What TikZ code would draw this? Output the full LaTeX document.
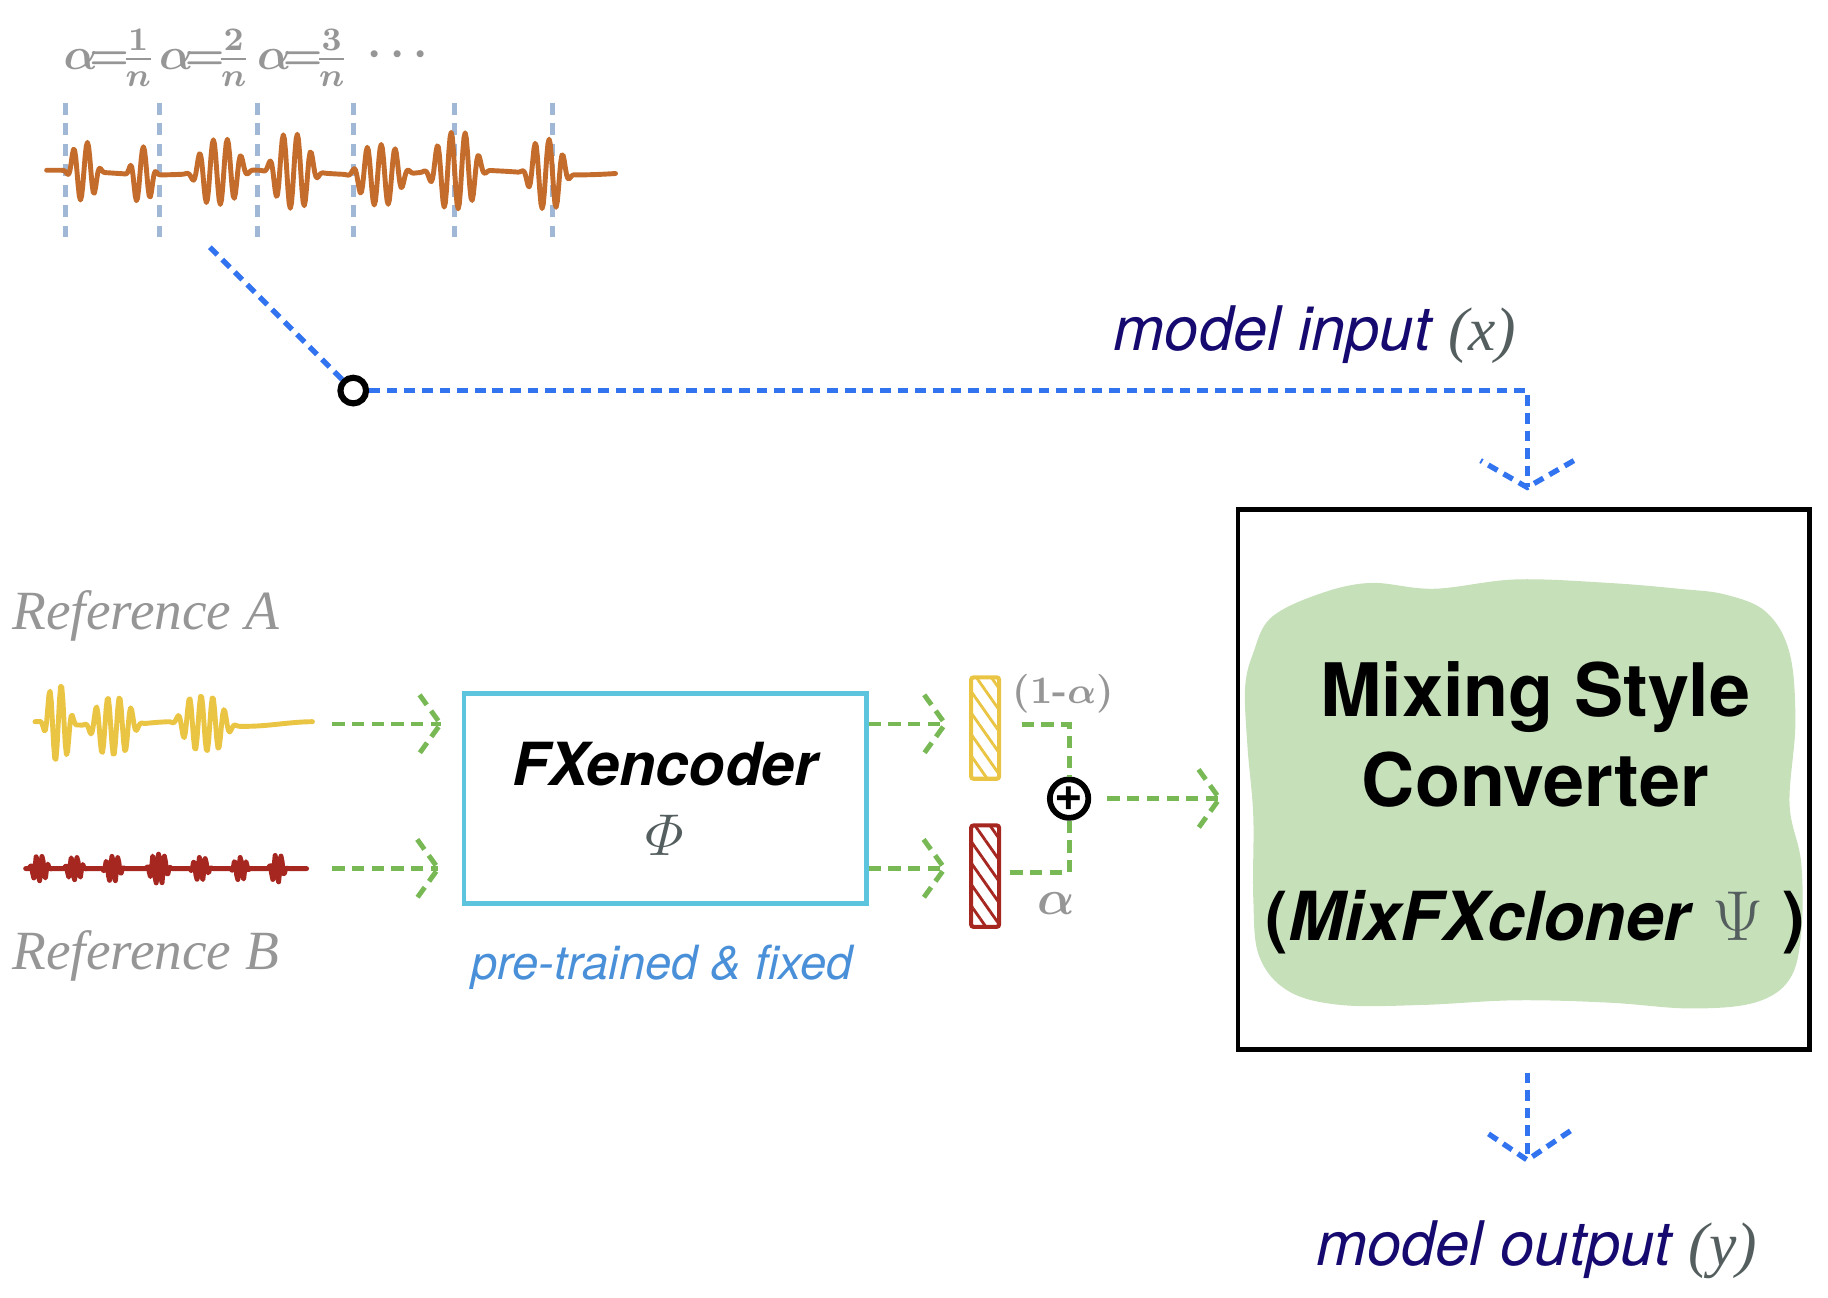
\documentclass[tikz,border=0pt]{standalone}
\usepackage{amsmath}
\usepackage{fontspec}
\setsansfont{TeX Gyre Heros}
\newfontfamily\reffont{Liberation Serif}
\usepackage{tikz}
\usetikzlibrary{positioning,calc,decorations.markings,patterns.meta}

\definecolor{wavebrown}{RGB}{196,108,44}
\definecolor{waveyellow}{RGB}{234,196,67}
\definecolor{wavered}{RGB}{166,38,32}
\definecolor{segblue}{RGB}{160,184,214}
\definecolor{linkblue}{RGB}{50,115,240}
\definecolor{linkgreen}{RGB}{120,185,86}
\definecolor{blobgreen}{RGB}{198,224,186}
\definecolor{enccyan}{RGB}{92,196,220}
\definecolor{fixblue}{RGB}{74,144,217}
\definecolor{navytext}{RGB}{22,10,112}
\definecolor{handgray}{RGB}{150,150,150}
\definecolor{symgray}{RGB}{85,94,94}

\begin{document}
\begin{tikzpicture}[
    declare function={burst(\pos,\cen,\wid)=exp(0-(min(((\pos-\cen)/\wid)^2,10))^2);},
    wave/.style={line width=1.2pt,line join=round,line cap=round},
    seg/.style={segblue,line width=1.1pt,dash pattern=on 3pt off 2pt},
    bluedash/.style={linkblue,line width=1.3pt,dash pattern=on 2.6pt off 1.7pt},
    greendash/.style={linkgreen,line width=1.2pt,dash pattern=on 3pt off 1.8pt},
    chev/.style n args={3}{postaction={decorate,decoration={markings,
      mark=at position 1 with {\draw[#1,line join=miter] (-#2,#3) -- (0,0) -- (-#2,-#3);}}}},
    hand/.style={text=handgray,font=\boldmath\bfseries\fontsize{11}{13}\selectfont,inner sep=0pt},
    reflbl/.style={text=handgray,font=\reffont\itshape\fontsize{13.5}{16}\selectfont},
    iolbl/.style={text=navytext,font=\sffamily\itshape\fontsize{15}{18}\selectfont},
    bar/.style={draw=#1,line width=1pt,rounded corners=0.6pt,inner sep=0,
      minimum width=0.24cm,minimum height=0.87cm,
      pattern={Lines[angle=-55,distance=3pt,line width=0.7pt]},pattern color=#1},
  ]
  \useasboundingbox (0,0) rectangle (15.68,-11.13);

  % input track cut into segments
  \foreach \xx in {0.56,1.37,2.21,3.03,3.90,4.74}
    \draw[seg] (\xx,-0.88) -- (\xx,-2.03);
  \draw[wave,wavebrown] plot[domain=40:528,samples=489,variable=\t]
    ({\t/100},{-1.48+0.02*sin(2*\t)+sin(30*mod(\t,12))*(0.25*burst(\t,72,12)+0.24*burst(\t,122,10)
      +0.28*burst(\t,188,20)+0.32*burst(\t,251,18)+0.26*burst(\t,326,20)
      +0.33*burst(\t,391,20)+0.30*burst(\t,469,16))});
  \foreach \i/\xx in {1/0.94,2/1.76,3/2.60}
    \node[hand] (seg\i) at (\xx,-0.50) {$\alpha\mkern-3mu{=}\mkern-3mu\frac{\i}{n}$};
  \node[hand] (segdots) at (3.45,-0.47) {$\cdots$};

  \coordinate (cut) at (1.80,-2.12);
  \node[circle,draw,line width=1.5pt,minimum size=0.22cm,inner sep=0] (tap) at (3.03,-3.35) {};
  \draw[bluedash] (cut) -- (tap);

  % converter
  \fill[blobgreen] plot[smooth cycle,tension=0.6] coordinates {
    (10.75,-5.60) (10.90,-5.30) (11.30,-5.10) (11.75,-5.00) (12.30,-5.05) (13.00,-4.97)
    (13.80,-5.00) (14.40,-5.05) (14.80,-5.10) (15.15,-5.25) (15.35,-5.60) (15.40,-6.20)
    (15.35,-6.90) (15.45,-7.40) (15.45,-8.00) (15.35,-8.40) (15.05,-8.60) (14.50,-8.65)
    (13.80,-8.60) (13.00,-8.58) (12.20,-8.62) (11.50,-8.62) (11.05,-8.50) (10.80,-8.20)
    (10.75,-7.70) (10.75,-7.00) (10.70,-6.40) (10.68,-5.90)};
  \node[draw,line width=1.1pt,minimum width=4.9cm,minimum height=4.63cm,inner sep=0] (conv) at (13.07,-6.685) {};
  \node[align=center,font=\sffamily\bfseries\fontsize{18}{22}\selectfont] (convlbl) at (13.17,-6.93)
    {Mixing Style\\Converter\\[0.38cm]{\fontsize{16.5}{20}\selectfont(\textit{MixFXcloner} \textcolor{symgray}{$\Psi$} )}};

  \draw[bluedash,chev={bluedash}{.23}{.40}] (tap) -| ([xshift=0.03cm,yshift=0.17cm]conv.north);
  \node[iolbl] (inlbl) at (11.28,-2.87) {model input \textcolor{symgray}{\reffont\itshape (x)}};

  \coordinate (outtip) at (13.10,-9.95);
  \draw[bluedash,chev={bluedash}{.25}{.37}] ([xshift=0.03cm,yshift=-0.18cm]conv.south) -- (outtip);
  \node[iolbl] (outlbl) at (13.18,-10.72) {model output \textcolor{symgray}{\reffont\itshape (y)}};

  % references
  \node[reflbl] (refa) at (1.25,-5.28) {Reference A};
  \node[reflbl] (refb) at (1.25,-8.20) {Reference B};
  \draw[wave,waveyellow] plot[domain=30:268,samples=239,variable=\t]
    ({\t/100},{-6.21+0.02*sin(3*\t)+sin(36*mod(\t,10))*(0.33*burst(\t,50,11)+0.25*burst(\t,97,18)
      +0.24*burst(\t,175,20))});
  \draw[wave,wavered] plot[domain=22:263,samples=242,variable=\t]
    ({\t/100},{-7.45+sin(72*mod(\t,5))*(0.11*burst(\t,34,7)+0.10*burst(\t,64,7)+0.11*burst(\t,97,7)
      +0.13*burst(\t,136,8)+0.10*burst(\t,172,7)+0.10*burst(\t,206,6)+0.12*burst(\t,238,6))});
  \coordinate (wa) at (2.68,-6.21);
  \coordinate (wb) at (2.63,-7.45);

  % encoder
  \node[draw=enccyan,line width=1.2pt,minimum width=3.45cm,minimum height=1.8cm,align=center,
    font=\sffamily\bfseries\itshape\fontsize{14.5}{17}\selectfont] (enc) at (5.705,-6.85)
    {FXencoder\\\textcolor{symgray}{$\varPhi$}};
  \node[text=fixblue,font=\sffamily\itshape\fontsize{11.5}{14}\selectfont] (fixed) at (5.68,-8.30) {pre-trained \& fixed};
  \draw[greendash,chev={greendash}{.18}{.25}] ($(wa)+(0.17,0)$) -- ($(enc.west |- wa)+(-0.18,0)$);
  \draw[greendash,chev={greendash}{.18}{.25}] ($(wb)+(0.22,0)$) -- ($(enc.west |- wb)+(-0.20,0)$);

  % style embeddings and mix
  \node[bar=waveyellow] (ybar) at (8.45,-6.245) {};
  \node[bar=wavered] (rbar) at (8.45,-7.515) {};
  \node[hand,font=\boldmath\bfseries\fontsize{9.5}{12}\selectfont] (onema) at (9.12,-5.95) {(1-$\alpha$)};
  \node[hand,font=\boldmath\fontsize{13}{15}\selectfont] (alph) at (9.06,-7.75) {$\alpha$};
  \node[circle,draw,line width=1.4pt,minimum size=0.33cm,inner sep=0,
    font=\sffamily\bfseries\fontsize{12}{12}\selectfont] (sum) at (9.17,-6.85) {+};
  \draw[greendash,chev={greendash}{.18}{.25}] (enc.east |- wa) -- ($(ybar.west |- wa)+(-0.21,0)$);
  \draw[greendash,chev={greendash}{.18}{.25}] (enc.east |- wb) -- ($(rbar.west |- wb)+(-0.21,0)$);
  \draw[greendash] ($(ybar.east)+(0.18,0.03)$) -| (sum.north);
  \draw[greendash] ($(rbar.east)+(0.08,0.03)$) -| (sum.south);
  \draw[greendash,chev={greendash}{.18}{.25}] ($(sum.east)+(0.14,0)$) -- ($(conv.west |- sum)+(-0.14,0)$);
\end{tikzpicture}
\end{document}
